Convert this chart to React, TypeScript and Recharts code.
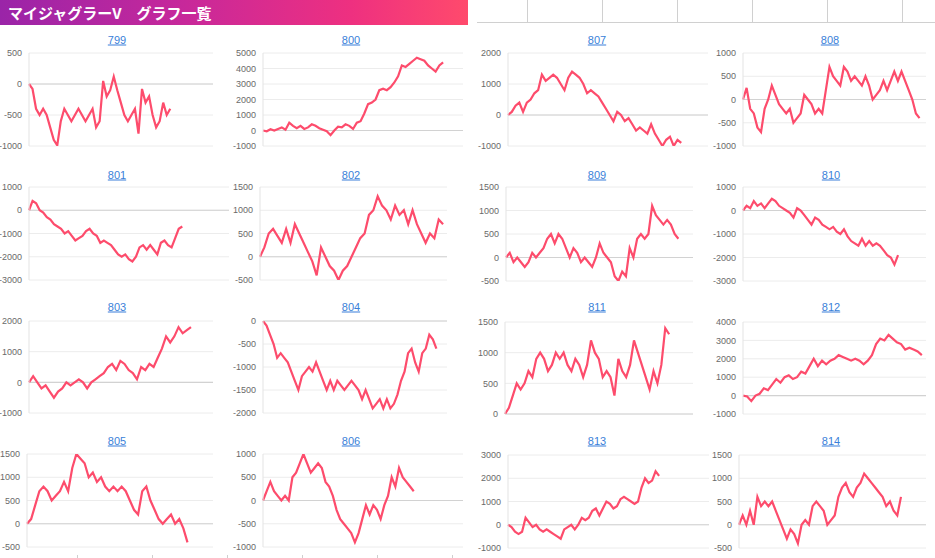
import React from 'react';
import { LineChart, Line, XAxis, YAxis, CartesianGrid, ReferenceLine } from 'recharts';

// ---- data (difference in medals per game step) ----
const s799 = [0, -80, -400, -500, -400, -500, -700, -900, -990, -600, -400, -500, -600, -500, -400, -500, -600, -500, -400, -700, -600, 50, -200, -100, 120, -100, -300, -500, -600, -500, -400, -800, -80, -300, -200, -500, -700, -600, -300, -500, -400];
const s800 = [0, -50, 80, 0, 100, 200, 50, 500, 300, 150, 300, 100, 200, 400, 300, 150, 50, -50, -300, 0, 250, 200, 400, 300, 100, 500, 600, 1100, 1700, 1800, 2000, 2600, 2700, 2600, 2800, 3100, 3500, 4200, 4100, 4300, 4500, 4700, 4600, 4500, 4200, 4000, 3800, 4200, 4400];
const s807 = [0, 100, 300, 400, 100, 400, 500, 700, 800, 1300, 1100, 1200, 1300, 1200, 1000, 800, 1200, 1400, 1300, 1200, 1000, 700, 800, 700, 600, 400, 200, 0, -200, 100, 0, -200, -100, -300, -500, -400, -500, -600, -300, -600, -800, -1000, -800, -700, -1000, -800, -900];
const s808 = [0, 250, -200, -300, -600, -700, -200, 0, 300, 100, -100, -200, -300, -200, -500, -400, -300, 100, 0, -100, -300, -200, -300, 200, 700, 500, 400, 300, 700, 600, 400, 500, 400, 300, 500, 300, 0, 100, 200, 400, 200, 400, 600, 400, 600, 400, 200, 0, -300, -400];
const s801 = [0, 400, 300, 0, -100, -300, -400, -600, -700, -800, -1000, -900, -1100, -1300, -1200, -1100, -900, -800, -1000, -1100, -1400, -1300, -1400, -1500, -1700, -1900, -2000, -1900, -2100, -2200, -2000, -1600, -1500, -1700, -1500, -1700, -1900, -1400, -1300, -1500, -1600, -1200, -800, -700];
const s802 = [0, 200, 500, 600, 450, 300, 600, 300, 700, 500, 300, 100, -100, -400, 200, 0, -200, -300, -500, -300, -200, 0, 200, 400, 500, 900, 1000, 1300, 1100, 1000, 800, 1100, 900, 1000, 700, 1000, 700, 500, 300, 500, 400, 800, 700];
const s809 = [0, 100, -100, 0, -100, -200, -100, 100, 0, 100, 200, 400, 500, 300, 500, 400, 200, 0, 200, 100, -100, 0, -100, -200, 0, 300, 100, 0, -100, -400, -500, -300, -400, 200, 0, 400, 500, 400, 500, 1100, 900, 800, 700, 800, 700, 500, 400];
const s810 = [0, 200, 100, 400, 200, 300, 100, 300, 500, 400, 200, 100, 0, -100, -300, 100, 0, -200, -400, -600, -300, -400, -600, -700, -800, -700, -900, -1000, -800, -1100, -1300, -1400, -1500, -1200, -1500, -1300, -1500, -1400, -1500, -1700, -1900, -2000, -2300, -1900];
const s803 = [0, 200, 0, -200, -100, -300, -500, -300, -200, 0, -100, 0, 100, 0, -200, 0, 100, 200, 300, 500, 600, 400, 700, 600, 400, 300, 100, 500, 400, 600, 500, 800, 1100, 1500, 1300, 1500, 1800, 1600, 1700, 1800];
const s804 = [0, -100, -300, -500, -800, -700, -800, -900, -1100, -1300, -1500, -1200, -1100, -1000, -1100, -900, -1100, -1300, -1500, -1300, -1500, -1300, -1400, -1500, -1400, -1300, -1400, -1500, -1700, -1500, -1700, -1900, -1800, -1700, -1900, -1700, -1900, -1800, -1600, -1300, -1100, -700, -600, -900, -1100, -700, -600, -300, -400, -600];
const s811 = [0, 100, 300, 500, 400, 500, 700, 600, 900, 1000, 900, 700, 800, 1000, 900, 1000, 800, 700, 900, 800, 600, 800, 1200, 1000, 900, 600, 700, 600, 300, 900, 700, 600, 800, 1200, 1000, 800, 600, 400, 700, 500, 800, 1400, 1300];
const s812 = [0, -50, -300, 0, 100, 400, 300, 600, 900, 700, 1000, 1100, 900, 1000, 1300, 1200, 1600, 2000, 1600, 1900, 1700, 1900, 2000, 2200, 2100, 2000, 1900, 2000, 1900, 1700, 1900, 2200, 2800, 3100, 3000, 3300, 3100, 2900, 2800, 2500, 2600, 2500, 2400, 2200];
const s805 = [0, 100, 400, 700, 800, 700, 500, 600, 700, 900, 700, 1200, 1500, 1400, 1300, 1000, 1100, 900, 1000, 800, 700, 800, 700, 800, 700, 500, 300, 200, 700, 800, 500, 300, 100, 0, 100, 200, 0, 100, -100, -400];
const s806 = [0, 200, 400, 200, 100, 0, 100, 0, 500, 600, 800, 1000, 800, 600, 700, 800, 700, 400, 300, 100, -200, -400, -500, -600, -700, -900, -700, -400, -100, -300, -100, -200, -400, -100, 100, 500, 300, 700, 500, 400, 300, 200];
const s813 = [0, -100, -300, -400, -300, 300, 100, -100, 0, -200, -300, -200, -300, -400, -500, -600, -200, -100, 0, -200, 0, 300, 200, 300, 600, 700, 400, 700, 1000, 900, 700, 800, 1100, 1200, 1100, 1000, 900, 1000, 1600, 2000, 1800, 1900, 2300, 2100];
const s814 = [0, 200, 0, 300, 0, 600, 400, 500, 400, 500, 300, 100, -100, -300, -100, -200, -400, 0, 100, 0, 400, 500, 400, 300, 0, 100, 200, 600, 800, 900, 700, 600, 800, 900, 1100, 1000, 900, 800, 700, 600, 400, 500, 300, 200, 600];

// ---- y-axis tick labels ----
const t799 = [-1000, -500, 0, 500];
const t800 = [-1000, 0, 1000, 2000, 3000, 4000, 5000];
const t807 = [-1000, 0, 1000, 2000];
const t808 = [-1000, -500, 0, 500, 1000];
const t801 = [-3000, -2000, -1000, 0, 1000];
const t802 = [-500, 0, 500, 1000, 1500];
const t809 = [-500, 0, 500, 1000, 1500];
const t810 = [-3000, -2000, -1000, 0, 1000];
const t803 = [-1000, 0, 1000, 2000];
const t804 = [-2000, -1500, -1000, -500, 0];
const t811 = [0, 500, 1000, 1500];
const t812 = [-1000, 0, 1000, 2000, 3000, 4000];
const t805 = [-500, 0, 500, 1000, 1500];
const t806 = [-1000, -500, 0, 500, 1000];
const t813 = [-1000, 0, 1000, 2000, 3000];
const t814 = [-500, 0, 500, 1000, 1500];

// ---- panel layout (positions only) ----
type P = { name: string; v: number[]; t: number[]; xMax: number; l: number; r: number; top: number; bot: number; cx: number; ty: number };
const panels: P[] = [
  { name: '799', v: s799, t: t799, xMax: 52.1, l: 29, r: 213, top: 53, bot: 146, cx: 117, ty: 40 },
  { name: '800', v: s800, t: t800, xMax: 53.3, l: 263, r: 463, top: 53, bot: 146, cx: 351, ty: 40 },
  { name: '807', v: s807, t: t807, xMax: 53.1, l: 508, r: 708, top: 53, bot: 146, cx: 597, ty: 40 },
  { name: '808', v: s808, t: t808, xMax: 50.8, l: 743, r: 926, top: 53, bot: 146, cx: 830, ty: 40 },
  { name: '801', v: s801, t: t801, xMax: 56.1, l: 29, r: 229, top: 187, bot: 280, cx: 117, ty: 175 },
  { name: '802', v: s802, t: t802, xMax: 42.9, l: 260, r: 447, top: 187, bot: 280, cx: 351, ty: 175 },
  { name: '809', v: s809, t: t809, xMax: 49.9, l: 506, r: 693, top: 187, bot: 281, cx: 597, ty: 175 },
  { name: '810', v: s810, t: t810, xMax: 50.75, l: 743, r: 926, top: 187, bot: 281, cx: 831, ty: 175 },
  { name: '803', v: s803, t: t803, xMax: 44.3, l: 29, r: 213, top: 321, bot: 413, cx: 117, ty: 307 },
  { name: '804', v: s804, t: t804, xMax: 52.0, l: 263, r: 447, top: 321, bot: 413, cx: 351, ty: 307 },
  { name: '811', v: s811, t: t811, xMax: 48.1, l: 505, r: 693, top: 322, bot: 414, cx: 597, ty: 307 },
  { name: '812', v: s812, t: t812, xMax: 44.0, l: 743, r: 926, top: 322, bot: 414, cx: 831, ty: 307 },
  { name: '805', v: s805, t: t805, xMax: 45.2, l: 27, r: 213, top: 454, bot: 547, cx: 117, ty: 441 },
  { name: '806', v: s806, t: t806, xMax: 54.4, l: 263, r: 463, top: 454, bot: 547, cx: 351, ty: 441 },
  { name: '813', v: s813, t: t813, xMax: 57.2, l: 508, r: 709, top: 455, bot: 548, cx: 597, ty: 441 },
  { name: '814', v: s814, t: t814, xMax: 50.8, l: 739, r: 926, top: 455, bot: 548, cx: 831, ty: 441 },
];

const AXW = 40;
const LINE = '#fd4c6c';
const FONT = 'Arial, "Liberation Sans", sans-serif';

function Panel({ p }: { p: P }) {
  const data = p.v.map((y, i) => ({ i, y }));
  const w = AXW + (p.r - p.l);
  const h = p.bot - p.top + 10;
  return (
    <>
      <div
        style={{
          position: 'absolute', left: p.cx, top: p.ty, transform: 'translate(-50%, -50%)',
          color: '#3a7fd9', textDecoration: 'underline', fontSize: 11, fontFamily: FONT, lineHeight: '13px',
        }}
      >
        {p.name}
      </div>
      <div style={{ position: 'absolute', left: p.l - AXW, top: p.top - 5 }}>
        <LineChart width={w} height={h} data={data} margin={{ top: 5, right: 0, bottom: 5, left: 0 }}>
          <CartesianGrid vertical={false} stroke="#ececec" />
          <XAxis dataKey="i" type="number" domain={[0, p.xMax]} hide />
          <YAxis
            width={AXW}
            domain={[p.t[0], p.t[p.t.length - 1]]}
            ticks={p.t}
            interval={0}
            tickLine={false}
            tickSize={0}
            tickMargin={7}
            axisLine={{ stroke: '#e3e3e3' }}
            tick={{ fill: '#6a6a6a', fontSize: 9, fontFamily: FONT }}
            allowDataOverflow
          />
          <ReferenceLine y={0} stroke="#d2d2d2" strokeWidth={1.2} />
          <Line type="linear" dataKey="y" stroke={LINE} strokeWidth={2.2} dot={false} isAnimationActive={false} />
        </LineChart>
      </div>
    </>
  );
}

const topCols = [527, 602, 677, 752, 827, 902];
const bottomTicks = [77, 152, 227, 302, 377, 452];

export default function App() {
  return (
    <div style={{ position: 'absolute', left: 0, top: 0, width: 935, height: 558, overflow: 'hidden', background: '#fff' }}>
      <div
        style={{
          position: 'absolute', left: 0, top: 0, width: 468, height: 25,
          background: 'linear-gradient(to right, #9a24a8 0%, #c8289a 40%, #ee3080 75%, #ff4a6c 100%)',
          color: '#fff', fontWeight: 'bold', fontSize: 15, lineHeight: '25px', paddingLeft: 8, boxSizing: 'border-box',
          fontFamily: '"Noto Sans CJK JP", sans-serif', whiteSpace: 'pre',
        }}
      >
        マイジャグラーV　グラフ一覧
      </div>
      <div style={{ position: 'absolute', left: 477, top: 22, width: 458, height: 1, background: '#d0d0d0' }} />
      {topCols.map((x) => (
        <div key={x} style={{ position: 'absolute', left: x, top: 0, width: 1, height: 22, background: '#d0d0d0' }} />
      ))}
      {bottomTicks.map((x) => (
        <div key={x} style={{ position: 'absolute', left: x, top: 555, width: 1, height: 3, background: '#cfcfcf' }} />
      ))}
      {panels.map((p) => (
        <Panel key={p.name} p={p} />
      ))}
    </div>
  );
}
